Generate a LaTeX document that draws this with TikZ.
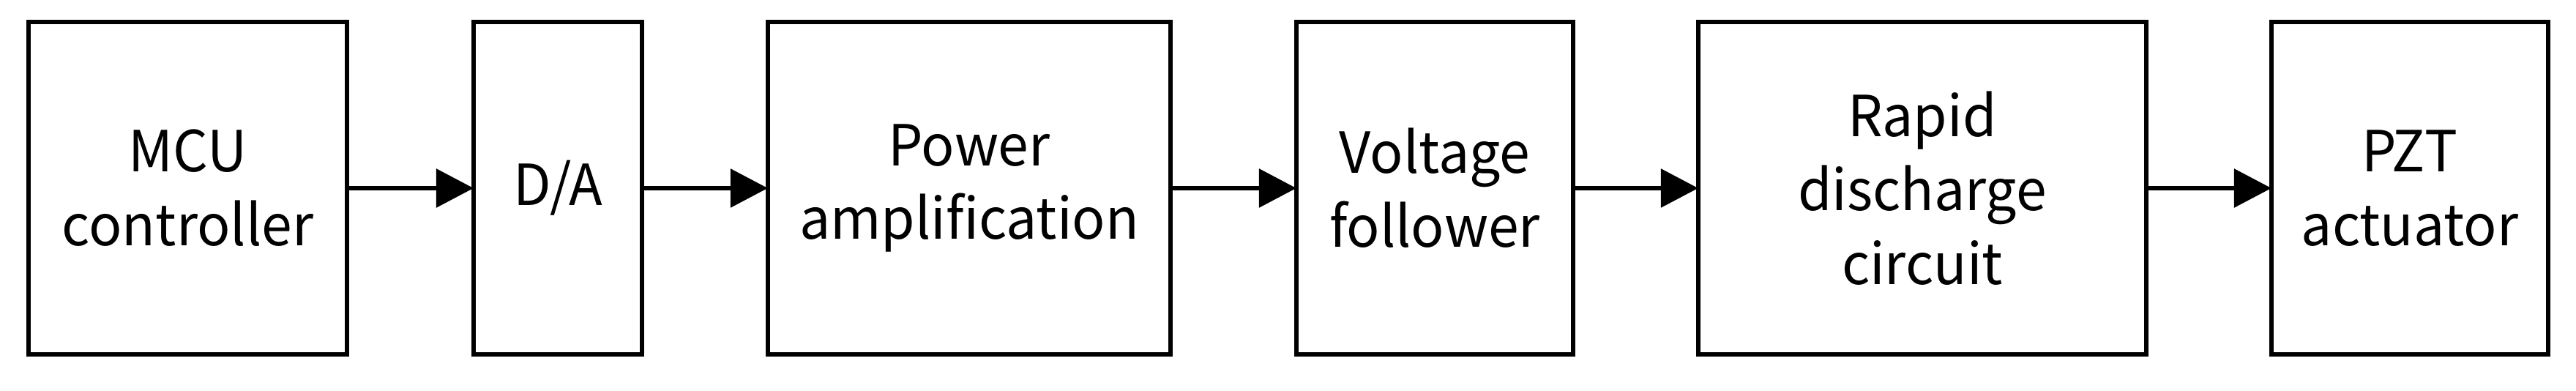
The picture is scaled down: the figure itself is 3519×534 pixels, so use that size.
\documentclass[tikz,border=0pt]{standalone}
\usepackage{fontspec}
\setmainfont[FakeStretch=0.97]{Noto Sans CJK SC}
\usetikzlibrary{arrows.meta}
\begin{document}
\begin{tikzpicture}[x=0.01cm,y=-0.01cm,
  blk/.style={draw, line width=0.06cm, rectangle, inner sep=0pt, outer sep=0pt,
    minimum height=4.54cm, align=center, font=\fontsize{22}{28.7}\selectfont},
  conn/.style={-{Triangle[length=0.51cm,width=0.52cm]}, line width=0.06cm}]
\useasboundingbox (0,0) rectangle (3519,534);
\node[blk, minimum width=4.35cm] (mcu) at (256.5,257) {MCU\\controller};
\node[blk, minimum width=2.30cm] (da) at (762,257) {D/A};
\node[blk, minimum width=5.50cm] (pa) at (1324,257) {Power\\amplification};
\node[blk, minimum width=3.78cm] (vf) at (1960,257) {Voltage\\follower};
\node[blk, minimum width=6.12cm] (rd) at (2626,257) {Rapid\\discharge\\circuit};
\node[blk, minimum width=3.78cm] (pzt) at (3292,257) {PZT\\actuator};
\draw[conn] (mcu.east) -- (da.west);
\draw[conn] (da.east) -- (pa.west);
\draw[conn] (pa.east) -- (vf.west);
\draw[conn] (vf.east) -- (rd.west);
\draw[conn] (rd.east) -- (pzt.west);
\end{tikzpicture}
\end{document}
